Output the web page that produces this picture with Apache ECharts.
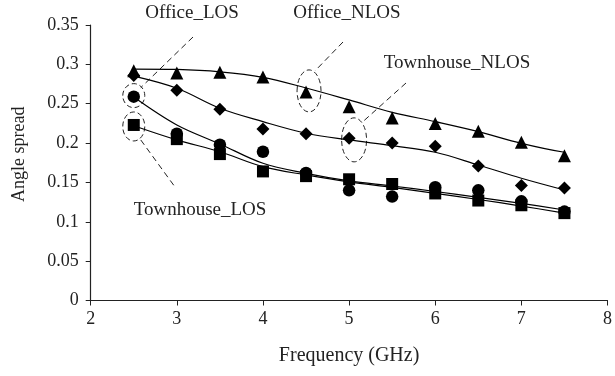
<!DOCTYPE html>
<html>
<head>
<meta charset="utf-8">
<script src="https://cdn.jsdelivr.net/npm/echarts/dist/echarts.min.js"></script>
<style>
  html, body { margin: 0; padding: 0; background: #fff; }
  #chart { width: 615px; height: 376px; }
</style>
</head>
<body>
<div id="chart"></div>
<script>
// Measurement frequencies (GHz)
const frequencies = [2.5, 3, 3.5, 4, 4.5, 5, 5.5, 6, 6.5, 7, 7.5];

// Measured angle spread per environment
const officeNlos     = [0.292, 0.289, 0.290, 0.284, 0.265, 0.246, 0.232, 0.225, 0.215, 0.201, 0.184];
const townhouseNlos  = [0.286, 0.267, 0.243, 0.218, 0.212, 0.206, 0.200, 0.196, 0.171, 0.146, 0.143];
const officeLos      = [0.259, 0.212, 0.198, 0.189, 0.162, 0.140, 0.132, 0.144, 0.140, 0.126, 0.113];
const townhouseLos   = [0.223, 0.205, 0.186, 0.164, 0.158, 0.154, 0.148, 0.136, 0.127, 0.121, 0.111];

// Fitted trend curves for each environment
const officeNlosFit    = [0.294, 0.2935, 0.2905, 0.2835, 0.270, 0.2548, 0.2391, 0.2272, 0.2145, 0.1997, 0.1883];
const townhouseNlosFit = [0.285, 0.2696, 0.2442, 0.2272, 0.2125, 0.204, 0.1967, 0.1883, 0.1722, 0.1553, 0.1404];
const officeLosFit     = [0.2585, 0.223, 0.1989, 0.1743, 0.1616, 0.152, 0.1455, 0.1385, 0.1309, 0.1233, 0.115];
const townhouseLosFit  = [0.222, 0.204, 0.189, 0.170, 0.1595, 0.1506, 0.1436, 0.136, 0.1283, 0.120, 0.111];

// Axis ticks
const xTicks = { min: 2, max: 8, step: 1 };
const yTicks = { min: 0, max: 0.35, step: 0.05 };

const pairs = (ys) => frequencies.map((f, i) => [f, ys[i]]);

const FONT = 'Liberation Serif';
const INK = '#000';
const TEXT = '#222';

function markers(name, symbol, size, ys) {
  return {
    name, type: 'scatter', symbol, symbolSize: size,
    itemStyle: { color: INK, opacity: 1 }, data: pairs(ys), z: 3, silent: true
  };
}
function trend(name, ys) {
  return {
    name, type: 'line', smooth: 0.35, showSymbol: false, symbol: 'none',
    lineStyle: { color: INK, width: 1.2 }, data: pairs(ys), z: 2, silent: true
  };
}

const chart = echarts.init(document.getElementById('chart'), null, { renderer: 'canvas' });

chart.setOption({
  animation: false,
  backgroundColor: '#fff',
  grid: { left: 90.7, right: 1.3, top: 25, bottom: 75.5, containLabel: false },
  xAxis: {
    type: 'value', min: xTicks.min, max: xTicks.max, interval: xTicks.step,
    name: 'Frequency (GHz)', nameLocation: 'middle', nameGap: 45,
    nameTextStyle: { fontFamily: FONT, fontSize: 20, color: TEXT },
    axisLine: { lineStyle: { color: '#222', width: 1.2 } },
    axisTick: { show: true, length: 5, inside: false, lineStyle: { color: '#222' } },
    axisLabel: { fontFamily: FONT, fontSize: 18, color: TEXT, margin: 10 },
    splitLine: { show: false }
  },
  yAxis: {
    type: 'value', min: yTicks.min, max: yTicks.max, interval: yTicks.step,
    name: 'Angle spread', nameLocation: 'middle', nameGap: 62, nameRotate: 90,
    nameTextStyle: { fontFamily: FONT, fontSize: 18, color: TEXT, padding: [0, 0, 0, 17] },
    axisLine: { show: true, lineStyle: { color: '#222', width: 1.2 } },
    axisTick: { show: true, length: 5, inside: false, lineStyle: { color: '#222' } },
    axisLabel: { fontFamily: FONT, fontSize: 18, color: TEXT, margin: 12 },
    splitLine: { show: false }
  },
  series: [
    trend('Office_NLOS fit', officeNlosFit),
    trend('Townhouse_NLOS fit', townhouseNlosFit),
    trend('Office_LOS fit', officeLosFit),
    trend('Townhouse_LOS fit', townhouseLosFit),
    markers('Townhouse_LOS', 'rect', 12, townhouseLos),
    markers('Office_LOS', 'circle', 12.5, officeLos),
    markers('Townhouse_NLOS', 'diamond', 13, townhouseNlos),
    markers('Office_NLOS', 'triangle', 13, officeNlos)
  ]
});

// Callouts: dashed ellipses around a chosen marker, joined by a dashed leader to the label
const px = (f, ys) => chart.convertToPixel({ gridIndex: 0 }, [f, ys[frequencies.indexOf(f)]]);
const dash = { stroke: '#222', lineWidth: 1, lineDash: [5, 3], fill: 'none' };

const cOL = px(2.5, officeLos);
const cTL = px(2.5, townhouseLos);
const cON = px(4.5, officeNlos);
const cTN = px(5, townhouseNlos);

function ellipse(c, dx, dy, rx, ry) {
  return { type: 'ellipse', shape: { cx: c[0] + dx, cy: c[1] + dy, rx, ry }, style: dash, silent: true };
}
function leader(x1, y1, x2, y2) {
  return { type: 'line', shape: { x1, y1, x2, y2 }, style: { stroke: '#222', lineWidth: 1, lineDash: [6, 4] }, silent: true };
}
function label(text, x, y) {
  return {
    type: 'text', x, y,
    style: { text, fontFamily: FONT, fontSize: 19, fill: TEXT, align: 'center', verticalAlign: 'middle' },
    silent: true
  };
}

chart.setOption({
  graphic: [
    ellipse(cOL, 0, -1, 11, 12),
    ellipse(cTL, 0, 1.5, 11, 14.5),
    ellipse(cON, 3, -1, 12, 21),
    ellipse(cTN, 5, 1.5, 12.5, 22),
    leader(193, 37, cOL[0] + 7, cOL[1] - 9),
    leader(cTL[0] + 7, cTL[1] + 15, 175, 187),
    leader(343, 42, cON[0] + 9, cON[1] - 21),
    leader(406, 83, cTN[0] + 13, cTN[1] - 16),
    label('Office_LOS', 192, 13),
    label('Office_NLOS', 347, 13),
    label('Townhouse_NLOS', 457, 63),
    label('Townhouse_LOS', 200, 210)
  ]
});
</script>
</body>
</html>
